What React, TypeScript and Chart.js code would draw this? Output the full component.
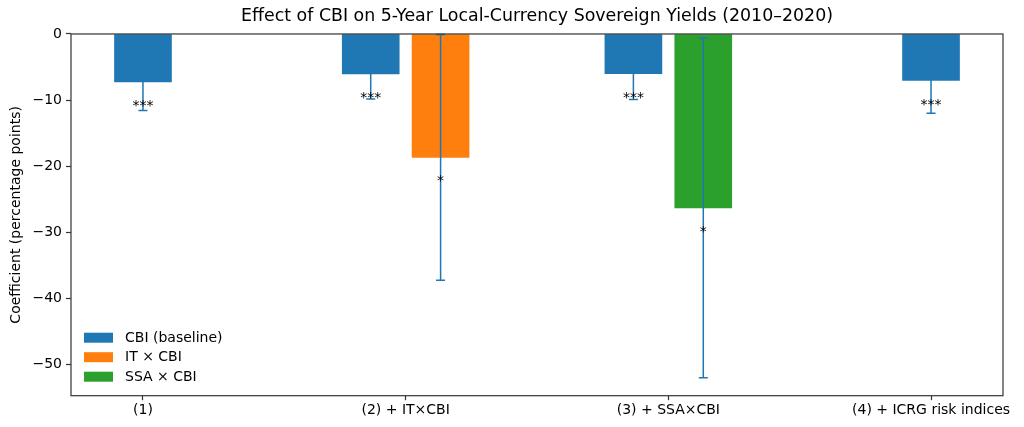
import { useEffect, useRef } from 'react';
import { Chart, registerables } from 'chart.js';

Chart.register(...registerables);

// ---- data ----
const categories = ['(1)', '(2) + IT×CBI', '(3) + SSA×CBI', '(4) + ICRG risk indices'];
const seriesLabels = ['CBI (baseline)', 'IT × CBI', 'SSA × CBI'];

const cbiGroup = [0, 1, 2, 3];
const cbiSlot = [0, -1, -1, 0];
const cbiCoef = [-7.25, -6.04, -6.0, -7.04];
const cbiSE = [4.32, 3.78, 3.9, 4.94];
const cbiStars = ['***', '***', '***', '***'];

const itGroup = [1];
const itSlot = [1];
const itCoef = [-18.67];
const itSE = [18.58];
const itStars = ['*'];

const ssaGroup = [2];
const ssaSlot = [1];
const ssaCoef = [-26.3];
const ssaSE = [25.7];
const ssaStars = ['*'];

const yMin = -54.7;
const yMax = 0;
const yStep = 10;
const starDrop = 3.25;

// ---- style ----
const FONT = '"DejaVu Sans", sans-serif';
const colors = ['#1f77b4', '#ff7f0e', '#2ca02c'];
const errColor = '#1f77b4';
const slotOffset = 0.133;
const barPx = 57;

const points = (groups: number[], slots: number[], vals: number[]) =>
  groups.map((g, i) => ({ x: g + slots[i] * slotOffset, y: vals[i] }));

const errorBarPlugin = {
  id: 'errorBars',
  afterDatasetsDraw(chart: any) {
    const ctx = chart.ctx;
    const y = chart.scales.y;
    ctx.save();
    chart.data.datasets.forEach((ds: any, di: number) => {
      const meta = chart.getDatasetMeta(di);
      meta.data.forEach((bar: any, i: number) => {
        const v = ds.data[i].y;
        const se = ds.se[i];
        const x = bar.x;
        const y1 = y.getPixelForValue(v + se);
        const y2 = y.getPixelForValue(v - se);
        ctx.strokeStyle = errColor;
        ctx.lineWidth = 1.5;
        ctx.beginPath();
        ctx.moveTo(x, y1);
        ctx.lineTo(x, y2);
        ctx.moveTo(x - 4.5, y1);
        ctx.lineTo(x + 4.5, y1);
        ctx.moveTo(x - 4.5, y2);
        ctx.lineTo(x + 4.5, y2);
        ctx.stroke();
      });
    });
    // stars
    ctx.fillStyle = '#000';
    ctx.font = `14px ${FONT}`;
    ctx.textAlign = 'center';
    ctx.textBaseline = 'alphabetic';
    chart.data.datasets.forEach((ds: any, di: number) => {
      const meta = chart.getDatasetMeta(di);
      meta.data.forEach((bar: any, i: number) => {
        const s = ds.stars[i];
        const m = ctx.measureText(s);
        const yc = y.getPixelForValue(ds.data[i].y - starDrop);
        const base = yc + (m.actualBoundingBoxAscent - m.actualBoundingBoxDescent) / 2;
        ctx.fillText(s, bar.x, base);
      });
    });
    ctx.restore();
  },
  afterDraw(chart: any) {
    const ctx = chart.ctx;
    const a = chart.chartArea;
    ctx.save();
    ctx.strokeStyle = '#333';
    ctx.lineWidth = 1.2;
    ctx.strokeRect(a.left, a.top, a.right - a.left, a.bottom - a.top);
    // legend
    ctx.font = `14px ${FONT}`;
    ctx.textAlign = 'left';
    ctx.textBaseline = 'middle';
    chart.data.datasets.forEach((ds: any, i: number) => {
      const cy = a.bottom - 58 + i * 19.5;
      ctx.fillStyle = ds.backgroundColor;
      ctx.fillRect(a.left + 13, cy - 5, 29, 10);
      ctx.fillStyle = '#000';
      ctx.fillText(ds.label, a.left + 54, cy + 0.5);
    });
    ctx.restore();
  },
};

export default function App() {
  const ref = useRef<HTMLCanvasElement | null>(null);

  useEffect(() => {
    if (!ref.current) return;
    const chart = new Chart(ref.current, {
      type: 'bar',
      data: {
        datasets: [
          {
            label: seriesLabels[0],
            data: points(cbiGroup, cbiSlot, cbiCoef),
            backgroundColor: colors[0],
            se: cbiSE,
            stars: cbiStars,
          } as any,
          {
            label: seriesLabels[1],
            data: points(itGroup, itSlot, itCoef),
            backgroundColor: colors[1],
            se: itSE,
            stars: itStars,
          } as any,
          {
            label: seriesLabels[2],
            data: points(ssaGroup, ssaSlot, ssaCoef),
            backgroundColor: colors[2],
            se: ssaSE,
            stars: ssaStars,
          } as any,
        ],
      },
      options: {
        animation: false,
        responsive: true,
        maintainAspectRatio: false,
        grouped: false,
        barThickness: barPx,
        layout: { padding: { left: 0, right: 21, top: 0, bottom: 0 } },
        plugins: {
          legend: { display: false },
          tooltip: { enabled: false },
          title: {
            display: true,
            fullSize: false,
            text: 'Effect of CBI on 5-Year Local-Currency Sovereign Yields (2010–2020)',
            color: '#000',
            font: { family: FONT, size: 17.4, weight: 'normal' },
            padding: { top: 5.8, bottom: 7.3 },
          },
        },
        scales: {
          x: {
            type: 'linear',
            offset: false,
            min: -0.274,
            max: categories.length - 1 + 0.274,
            afterBuildTicks: (scale: any) => {
              scale.ticks = categories.map((_, i) => ({ value: i }));
            },
            afterFit: (scale: any) => {
              scale.height = 31.3;
            },
            ticks: {
              autoSkip: false,
              maxRotation: 0,
              color: '#000',
              padding: 2,
              font: { family: FONT, size: 14 },
              callback: (v: any) => categories[v as number] ?? '',
            },
            grid: {
              display: true,
              offset: false,
              drawOnChartArea: false,
              drawTicks: true,
              tickLength: 4.5,
              tickColor: '#333',
              tickWidth: 1.2,
            },
            border: { display: false },
          },
          y: {
            min: yMin,
            max: yMax,
            afterFit: (scale: any) => {
              scale.width = 71;
            },
            ticks: {
              stepSize: yStep,
              includeBounds: false,
              color: '#000',
              padding: 4,
              font: { family: FONT, size: 14 },
              callback: (v: any) => String(v).replace('-', '\u2212'),
            },
            grid: {
              display: true,
              drawOnChartArea: false,
              drawTicks: true,
              tickLength: 5,
              tickColor: '#333',
              tickWidth: 1.2,
            },
            border: { display: false },
            title: {
              display: true,
              text: 'Coefficient (percentage points)',
              color: '#000',
              font: { family: FONT, size: 14 },
              padding: { top: 7.6, bottom: 0 },
            },
          },
        },
      } as any,
      plugins: [errorBarPlugin],
    });
    return () => chart.destroy();
  }, []);

  return (
    <div style={{ position: 'fixed', left: 0, top: 0, width: 1024, height: 427, background: '#fff' }}>
      <canvas ref={ref} />
    </div>
  );
}
